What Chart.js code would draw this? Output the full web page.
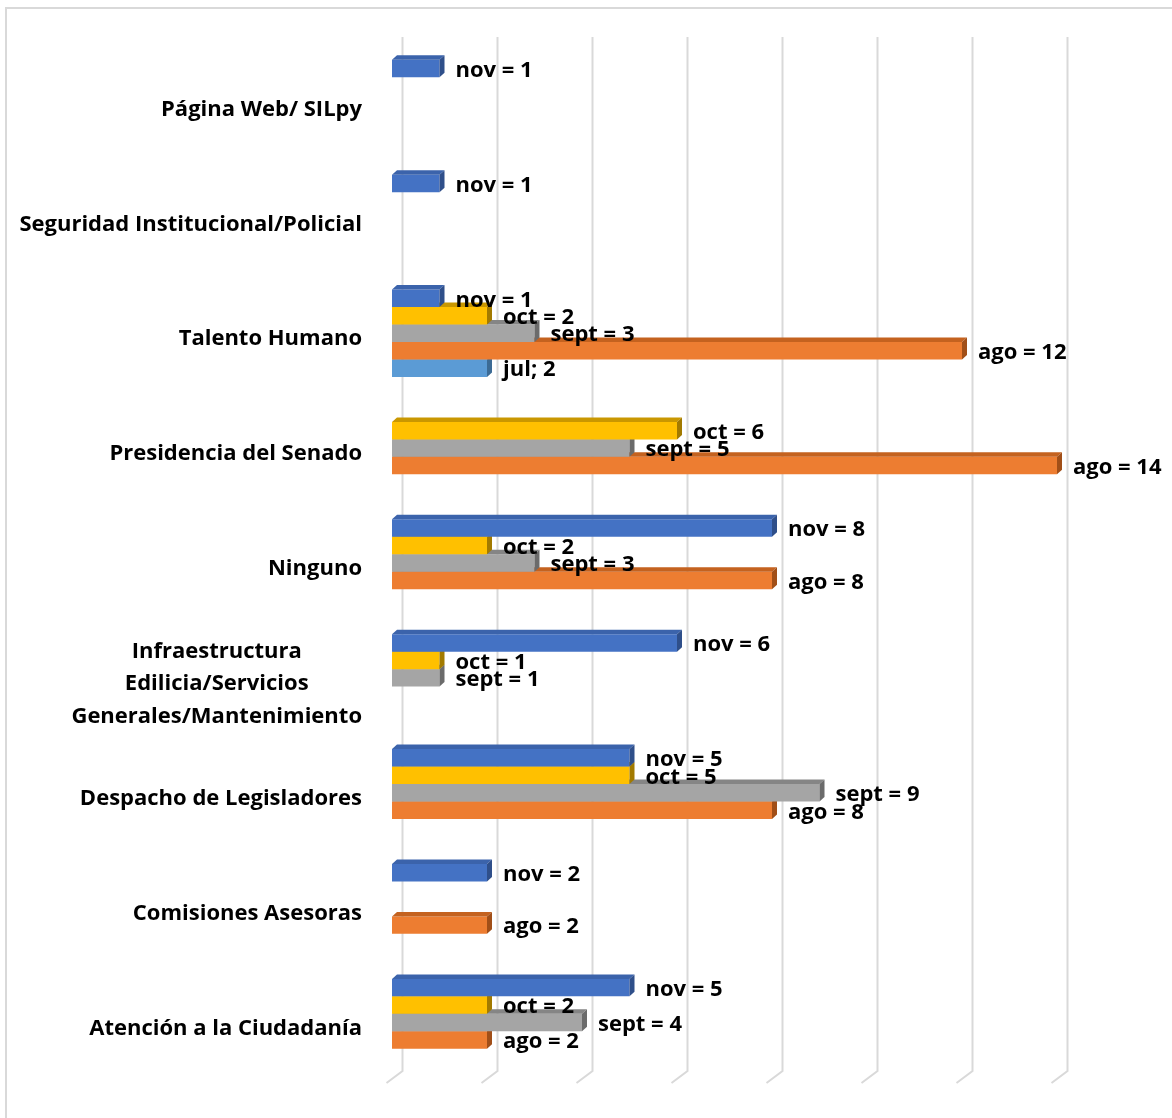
<!DOCTYPE html>
<html lang="es">
<head>
<meta charset="utf-8">
<title>Áreas por mes</title>
<script src="https://cdn.jsdelivr.net/npm/chart.js@4.4.1/dist/chart.umd.min.js"></script>
<style>
  html, body { margin: 0; padding: 0; background: #fff; overflow: hidden; }
  #wrap { position: relative; width: 1172px; height: 1118px; }
  #frame { position: absolute; left: 5px; top: 7px; width: 1300px; height: 1300px;
           border-left: 2px solid #d9d9d9; border-top: 2px solid #d9d9d9; box-sizing: border-box; }
  canvas { position: absolute; left: 0; top: 0; }
</style>
</head>
<body>
<div id="wrap">
  <div id="frame"></div>
  <canvas id="chart" width="1172" height="1118"></canvas>
</div>
<script>
// Categories, bottom to top as they appear on the axis
const categories = [
  'Página Web/ SILpy',
  'Seguridad Institucional/Policial',
  'Talento Humano',
  'Presidencia del Senado',
  'Ninguno',
  ['Infraestructura', 'Edilicia/Servicios', 'Generales/Mantenimiento'],
  'Despacho de Legisladores',
  'Comisiones Asesoras',
  'Atención a la Ciudadanía'
];

// Monthly counts per category (null = no records that month)
const nov  = [1, 1, 1, null, 8, 6, 5, 2, 5];
const oct  = [null, null, 2, 6, 2, 1, 5, null, 2];
const sept = [null, null, 3, 5, 3, 1, 9, null, 4];
const ago  = [null, null, 12, 14, 8, null, 8, 2, 2];
const jul  = [null, null, 2, null, null, null, null, null, null];

const seriesNames = ['nov', 'oct', 'sept', 'ago', 'jul'];
const labelSeparators = [' = ', ' = ', ' = ', ' = ', '; '];
const seriesColors = ['#4472C4', '#FFC000', '#A5A5A5', '#ED7D31', '#5B9BD5'];
const topColors    = ['#3B63AB', '#C99700', '#858585', '#C4621F', '#4A82B5'];
const sideColors   = ['#2F4F8A', '#A27A00', '#6B6B6B', '#A14F18', '#3C6B95'];

const xTicks = { min: 0, max: 14, step: 2 };

const FONT = '700 22px "Open Sans", "Noto Sans", sans-serif';
const DEPTH_X = 5, DEPTH_Y = 4.5;

// Light gridlines on the back wall, bending onto the floor
const wallGrid = {
  id: 'wallGrid',
  beforeDatasetsDraw(chart) {
    const { ctx, chartArea, scales: { x } } = chart;
    ctx.save();
    ctx.strokeStyle = '#d9d9d9';
    ctx.lineWidth = 2;
    x.ticks.forEach(t => {
      const px = x.getPixelForValue(t.value);
      ctx.beginPath();
      ctx.moveTo(px + 10.5, chartArea.top - 9);
      ctx.lineTo(px + 10.5, chartArea.bottom - 9);
      ctx.lineTo(px - 5.5, chartArea.bottom + 3);
      ctx.stroke();
    });
    ctx.restore();
  }
};

// Top and end faces that give each bar its depth
const barDepth = {
  id: 'barDepth',
  afterDatasetDraw(chart, args) {
    const { ctx } = chart;
    const meta = args.meta;
    const di = args.index;
    const data = chart.data.datasets[di].data;
    ctx.save();
    meta.data.forEach((bar, i) => {
      if (data[i] == null) return;
      const p = bar.getProps(['x', 'y', 'base', 'height'], true);
      const top = p.y - p.height / 2, bottom = p.y + p.height / 2;
      ctx.fillStyle = topColors[di];
      ctx.beginPath();
      ctx.moveTo(p.base, top);
      ctx.lineTo(p.x, top);
      ctx.lineTo(p.x + DEPTH_X, top - DEPTH_Y);
      ctx.lineTo(p.base + DEPTH_X, top - DEPTH_Y);
      ctx.closePath();
      ctx.fill();
      ctx.fillStyle = sideColors[di];
      ctx.beginPath();
      ctx.moveTo(p.x, top);
      ctx.lineTo(p.x + DEPTH_X, top - DEPTH_Y);
      ctx.lineTo(p.x + DEPTH_X, bottom - DEPTH_Y);
      ctx.lineTo(p.x, bottom);
      ctx.closePath();
      ctx.fill();
    });
    ctx.restore();
  }
};

// "mes = valor" labels right of each bar end
const valueLabels = {
  id: 'valueLabels',
  afterDatasetsDraw(chart) {
    const { ctx } = chart;
    ctx.save();
    ctx.font = FONT;
    ctx.fillStyle = '#000';
    ctx.textAlign = 'left';
    ctx.textBaseline = 'middle';
    chart.data.datasets.forEach((ds, di) => {
      const meta = chart.getDatasetMeta(di);
      meta.data.forEach((bar, i) => {
        const v = ds.data[i];
        if (v == null) return;
        const p = bar.getProps(['x', 'y'], true);
        ctx.fillText(seriesNames[di] + labelSeparators[di] + v, p.x + 16, p.y + 2);
      });
    });
    ctx.restore();
  }
};

// Category names, right-aligned as a block with lines centred within it
const categoryLabels = {
  id: 'categoryLabels',
  afterDraw(chart) {
    const { ctx, scales: { y } } = chart;
    const rightEdge = chart.chartArea.left - 30;
    const lineH = 32.5;
    ctx.save();
    ctx.font = FONT;
    ctx.fillStyle = '#000';
    ctx.textAlign = 'center';
    ctx.textBaseline = 'middle';
    chart.data.labels.forEach((lab, i) => {
      const lines = Array.isArray(lab) ? lab : [lab];
      const w = Math.max(...lines.map(l => ctx.measureText(l).width));
      const cx = rightEdge - w / 2;
      const cy = y.getPixelForTick(i) + 6;
      lines.forEach((l, k) => {
        ctx.fillText(l, cx, cy + (k - (lines.length - 1) / 2) * lineH);
      });
    });
    ctx.restore();
  }
};

const seriesData = [nov, oct, sept, ago, jul];

new Chart(document.getElementById('chart'), {
  type: 'bar',
  data: {
    labels: categories,
    datasets: seriesData.map((d, i) => ({
      label: seriesNames[i],
      data: d,
      backgroundColor: seriesColors[i],
      borderWidth: 0,
      categoryPercentage: 0.76,
      barPercentage: 1.0
    }))
  },
  options: {
    indexAxis: 'y',
    responsive: false,
    animation: false,
    layout: { padding: { top: 46, bottom: 38, left: 0, right: 115 } },
    plugins: { legend: { display: false }, tooltip: { enabled: false } },
    scales: {
      x: {
        min: xTicks.min, max: xTicks.max,
        ticks: { display: false, stepSize: xTicks.step },
        grid: { display: false },
        border: { display: false },
        afterFit(s) { s.height = 0; }
      },
      y: {
        ticks: { display: false },
        grid: { display: false },
        border: { display: false },
        afterFit(s) { s.width = 392; }
      }
    }
  },
  plugins: [wallGrid, barDepth, valueLabels, categoryLabels]
});
</script>
</body>
</html>
